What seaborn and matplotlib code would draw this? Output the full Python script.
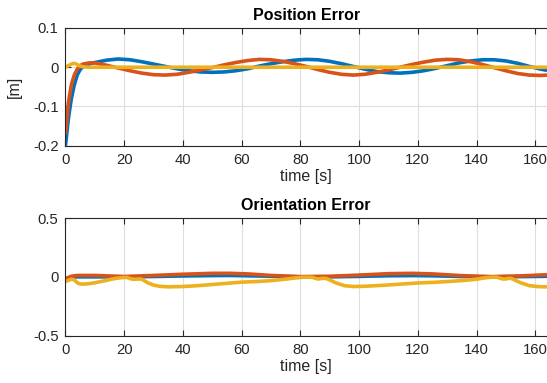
import numpy as np
import pandas as pd
import matplotlib
matplotlib.use("Agg")
import matplotlib.pyplot as plt
import seaborn as sns

# ---------------- data ----------------
pos_time = [0, 1, 2, 3, 4, 5, 6, 8, 10, 14, 18, 22, 26, 30, 34, 38, 42, 46, 50, 54, 58,
            62, 66, 70, 74, 78, 82, 86, 90, 94, 98, 102, 106, 110, 114, 118, 122, 126,
            130, 134, 138, 142, 146, 150, 154, 158, 162, 164]
pos_blue = [-0.2, -0.13, -0.08, -0.045, -0.02, -0.006, 0.002, 0.008, 0.012, 0.018, 0.021,
            0.019, 0.014, 0.008, 0.002, -0.004, -0.009, -0.012, -0.013, -0.012, -0.009,
            -0.004, 0.003, 0.009, 0.014, 0.018, 0.02, 0.019, 0.015, 0.009, 0.002, -0.005,
            -0.011, -0.014, -0.015, -0.013, -0.009, -0.003, 0.004, 0.011, 0.016, 0.019,
            0.019, 0.016, 0.01, 0.002, -0.005, -0.008]
pos_orange = [-0.17, -0.09, -0.045, -0.02, -0.005, 0.004, 0.008, 0.011, 0.011, 0.005,
              -0.002, -0.009, -0.015, -0.019, -0.02, -0.018, -0.013, -0.007, -0.001, 0.006,
              0.012, 0.017, 0.02, 0.019, 0.015, 0.009, 0.002, -0.006, -0.013, -0.018,
              -0.02, -0.018, -0.013, -0.007, 0.0, 0.007, 0.013, 0.018, 0.02, 0.019,
              0.014, 0.007, -0.001, -0.009, -0.016, -0.02, -0.021, -0.02]
pos_yellow = [0.0, 0.004, 0.008, 0.01, 0.007, 0.003, 0.001, 0.0, 0.0, 0.0, 0.0, 0.0, 0.0,
              0.0, 0.0, 0.0, 0.0, 0.0, 0.0, 0.0, 0.0, 0.0, 0.0, 0.0, 0.0, 0.0, 0.0, 0.0,
              0.0, 0.0, 0.0, 0.0, 0.0, 0.0, 0.0, 0.0, 0.0, 0.0, 0.0, 0.0, 0.0, 0.0, 0.0,
              0.0, 0.0, 0.0, 0.0, 0.0]

ori_time = [0, 2, 4, 10, 20, 30, 40, 50, 56, 62, 70, 80, 90, 100, 110, 118, 125, 135,
            145, 155, 164]
ori_blue = [-0.02, -0.005, 0.0, 0.0, 0.0, 0.003, 0.008, 0.012, 0.013, 0.01, 0.005, 0.0,
            0.0, 0.004, 0.01, 0.012, 0.01, 0.003, 0.0, 0.002, 0.005]
ori_orange = [-0.015, 0.005, 0.012, 0.012, 0.003, 0.012, 0.022, 0.03, 0.03, 0.025, 0.012,
              0.002, 0.005, 0.015, 0.027, 0.03, 0.025, 0.01, 0.002, 0.008, 0.018]

ori_time_y = [0, 1, 2, 3, 4, 5, 6, 8, 10, 12, 14, 16, 18, 20, 21, 22, 23, 24, 25, 26, 28,
              30, 32, 35, 40, 45, 50, 55, 60, 65, 70, 74, 78, 81, 84, 85, 86, 87, 88, 89,
              92, 95, 98, 102, 108, 114, 120, 126, 130, 136, 140, 143, 145, 147, 148, 149,
              150, 151, 152, 155, 158, 161, 164]
ori_yellow = [-0.04, -0.03, -0.02, -0.025, -0.05, -0.06, -0.062, -0.058, -0.05, -0.04,
              -0.03, -0.018, -0.01, -0.005, -0.005, -0.015, -0.02, -0.02, -0.018, -0.02,
              -0.05, -0.07, -0.08, -0.085, -0.082, -0.075, -0.065, -0.055, -0.045, -0.04,
              -0.032, -0.022, -0.01, -0.003, -0.003, -0.012, -0.018, -0.015, -0.012,
              -0.015, -0.05, -0.075, -0.082, -0.08, -0.072, -0.062, -0.052, -0.046, -0.04,
              -0.03, -0.02, -0.008, -0.003, -0.003, -0.012, -0.018, -0.018, -0.012,
              -0.015, -0.05, -0.075, -0.083, -0.085]

pos_yticks = [-0.2, -0.1, 0, 0.1]
pos_yticklabels = ["-0.2", "-0.1", "0", "0.1"]
ori_yticks = [-0.5, 0, 0.5]
ori_yticklabels = ["-0.5", "0", "0.5"]
xticks = [0, 20, 40, 60, 80, 100, 120, 140, 160]

# ---------------- style ----------------
sns.set_theme(style="white")
plt.rcParams['font.family'] = ['Liberation Sans', 'DejaVu Sans']

BLUE, ORANGE, YELLOW = "#0072BD", "#D95319", "#EDB120"
AX_COLOR = "#262626"

fig = plt.figure(figsize=(5.47, 3.83), dpi=100)
ax1 = fig.add_axes([0.1197, 0.6196, 0.8803, 0.3073])
ax2 = fig.add_axes([0.1197, 0.1235, 0.8803, 0.3073])


def draw(ax, series, ylim, yticks, yticklabels, title, ylabel=None):
    for t, v, c in series:
        sns.lineplot(x=t, y=v, ax=ax, color=c, linewidth=2.6, sort=False,
                     estimator=None, solid_capstyle="butt")
    ax.set_xlim(0, 164)
    ax.set_ylim(*ylim)
    ax.set_xticks(xticks)
    ax.set_xticklabels([str(x) for x in xticks])
    ax.set_yticks(yticks)
    ax.set_yticklabels(yticklabels)
    ax.grid(True, color="#dedede", linewidth=0.8)
    ax.set_axisbelow(True)
    for s in ["left", "bottom", "top"]:
        ax.spines[s].set_visible(True)
        ax.spines[s].set_color(AX_COLOR)
        ax.spines[s].set_linewidth(0.8)
    ax.spines["right"].set_visible(False)
    ax.tick_params(axis="both", direction="in", length=4, width=0.8, color=AX_COLOR,
                   labelcolor=AX_COLOR, labelsize=10.7, top=True, bottom=True, left=True,
                   right=False, pad=5)
    ax.set_title(title, fontsize=11.5, fontweight="bold", color="black", pad=6)
    ax.set_xlabel("time [s]", fontsize=11.5, color=AX_COLOR, labelpad=2)
    if ylabel:
        ax.set_ylabel(ylabel, fontsize=11.5, color=AX_COLOR, labelpad=8)
    else:
        ax.set_ylabel("")


draw(ax1, [(pos_time, pos_blue, BLUE), (pos_time, pos_orange, ORANGE),
           (pos_time, pos_yellow, YELLOW)],
     (-0.2, 0.1), pos_yticks, pos_yticklabels, "Position Error", "[m]")
draw(ax2, [(ori_time, ori_blue, BLUE), (ori_time, ori_orange, ORANGE),
           (ori_time_y, ori_yellow, YELLOW)],
     (-0.5, 0.5), ori_yticks, ori_yticklabels, "Orientation Error")

fig.savefig("out.png", dpi=100)
